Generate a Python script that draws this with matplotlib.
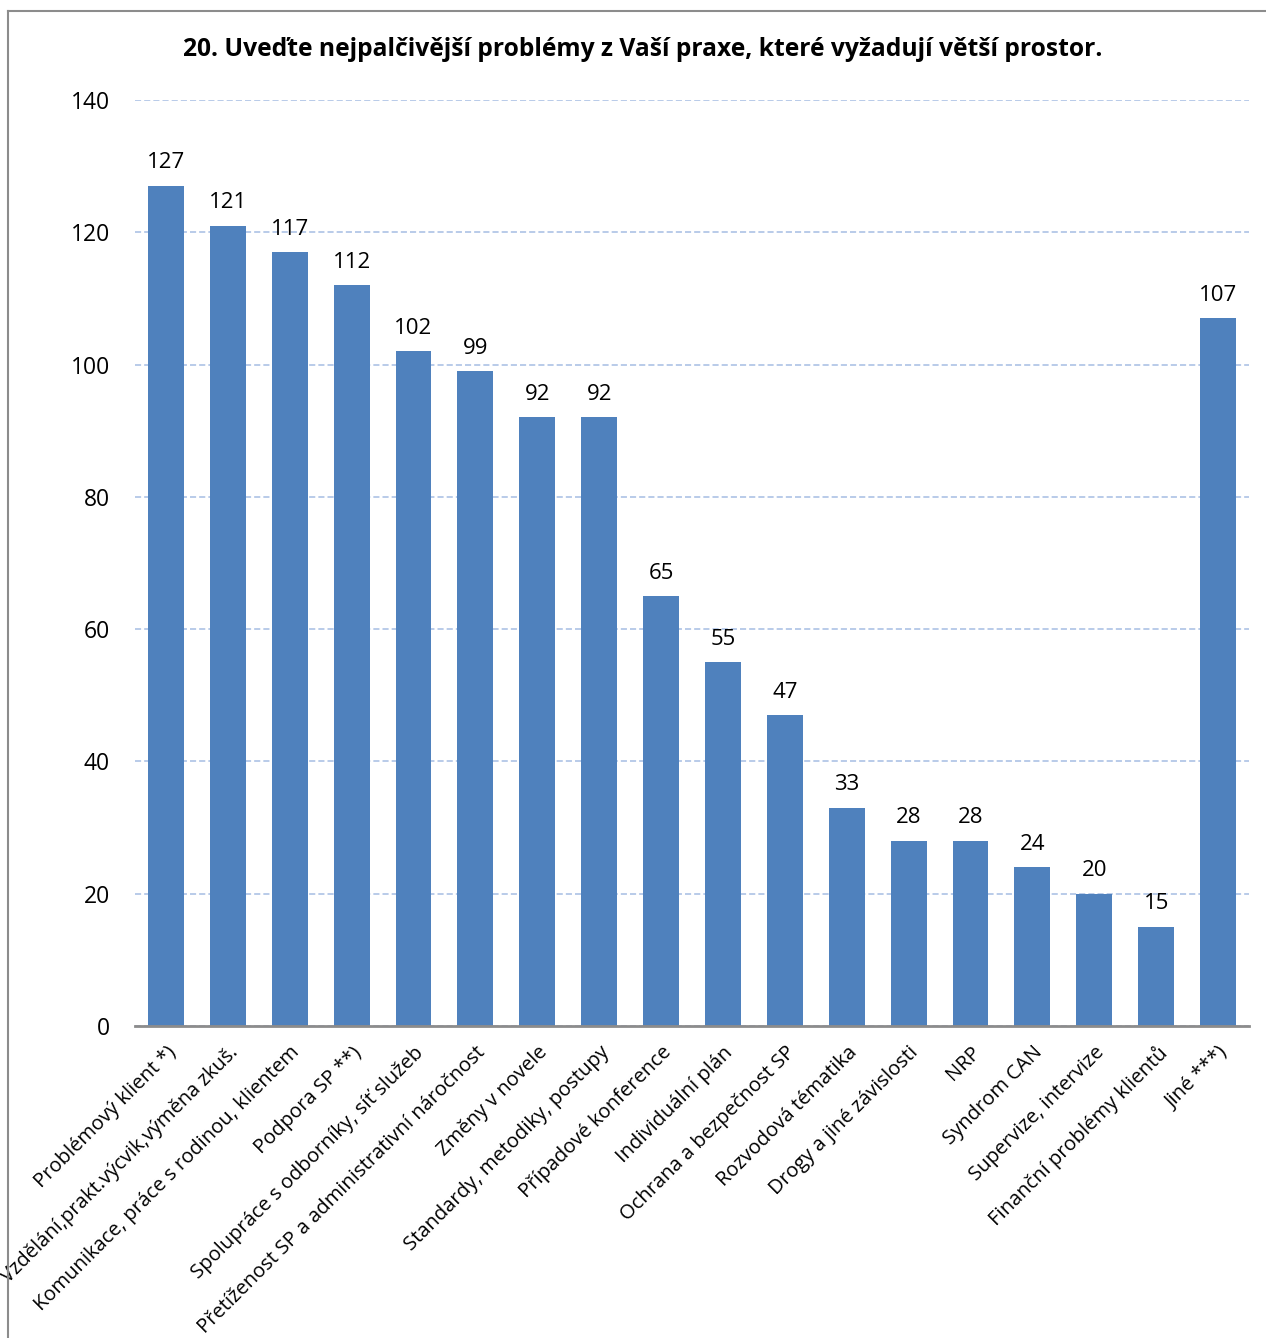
import matplotlib
matplotlib.use("Agg")
import matplotlib.pyplot as plt
from matplotlib.lines import Line2D

plt.rcParams["font.family"] = ["Open Sans", "DejaVu Sans"]

# data
categories = [
    "Problémový klient *)",
    "Vzdělání,prakt.výcvik,výměna zkuš.",
    "Komunikace, práce s rodinou, klientem",
    "Podpora SP **)",
    "Spolupráce s odborníky, síť služeb",
    "Přetíženost SP a administrativní náročnost",
    "Změny v novele",
    "Standardy, metodiky, postupy",
    "Případové konference",
    "Individuální plán",
    "Ochrana a bezpečnost SP",
    "Rozvodová tématika",
    "Drogy a jiné závislosti",
    "NRP",
    "Syndrom CAN",
    "Supervize, intervize",
    "Finanční problémy klientů",
    "Jiné ***)",
]
values = [127, 121, 117, 112, 102, 99, 92, 92, 65, 55, 47, 33, 28, 28, 24, 20, 15, 107]
yticks = [0, 20, 40, 60, 80, 100, 120, 140]
title = "20. Uveďte nejpalčivější problémy z Vaší praxe, které vyžadují větší prostor."

W, H = 1266, 1338
fig = plt.figure(figsize=(W / 100, H / 100), dpi=100)
fig.patch.set_facecolor("white")

# plot area in pixels: x 135..1249, y 100..1026
ax = fig.add_axes([135 / W, 1 - 1026 / H, (1249 - 135) / W, (1026 - 100) / H])

x = range(len(values))
ax.bar(x, values, width=0.58, color="#4f81bd", zorder=3)

for xi, v in zip(x, values):
    ax.annotate(str(v), (xi, v), xytext=(0, 9), textcoords="offset points",
                ha="center", va="bottom", fontsize=16, color="black")

ax.set_xlim(-0.5, len(values) - 0.5)
ax.set_ylim(0, 140)
ax.set_yticks(yticks)
ax.set_yticklabels([str(t) for t in yticks], fontsize=16.5)
ax.yaxis.grid(True, linestyle=(0, (4, 2)), color="#a6bde3", linewidth=1.1, zorder=0)
ax.set_axisbelow(True)
ax.tick_params(axis="y", length=0, pad=18)
ax.tick_params(axis="x", length=0, pad=12)

for s in ["top", "right", "left"]:
    ax.spines[s].set_visible(False)
ax.spines["bottom"].set_color("#8c8c8c")
ax.spines["bottom"].set_linewidth(2)
ax.spines["bottom"].set_zorder(4)

ax.set_xticks(list(x))
ax.set_xticklabels(categories, rotation=45, ha="right", rotation_mode="anchor",
                   fontsize=14.5)

fig.text(643 / W, 1 - 50 / H, title, ha="center", va="center",
         fontsize=17.7, fontweight="bold")

# chart frame (left and top edges)
fig.add_artist(Line2D([8 / W, 8 / W], [0, 1 - 11 / H], transform=fig.transFigure,
                      color="#8c8c8c", linewidth=1.5))
fig.add_artist(Line2D([8 / W, 1], [1 - 11 / H, 1 - 11 / H], transform=fig.transFigure,
                      color="#8c8c8c", linewidth=1.5))

fig.savefig("out.png", dpi=100, facecolor="white")
